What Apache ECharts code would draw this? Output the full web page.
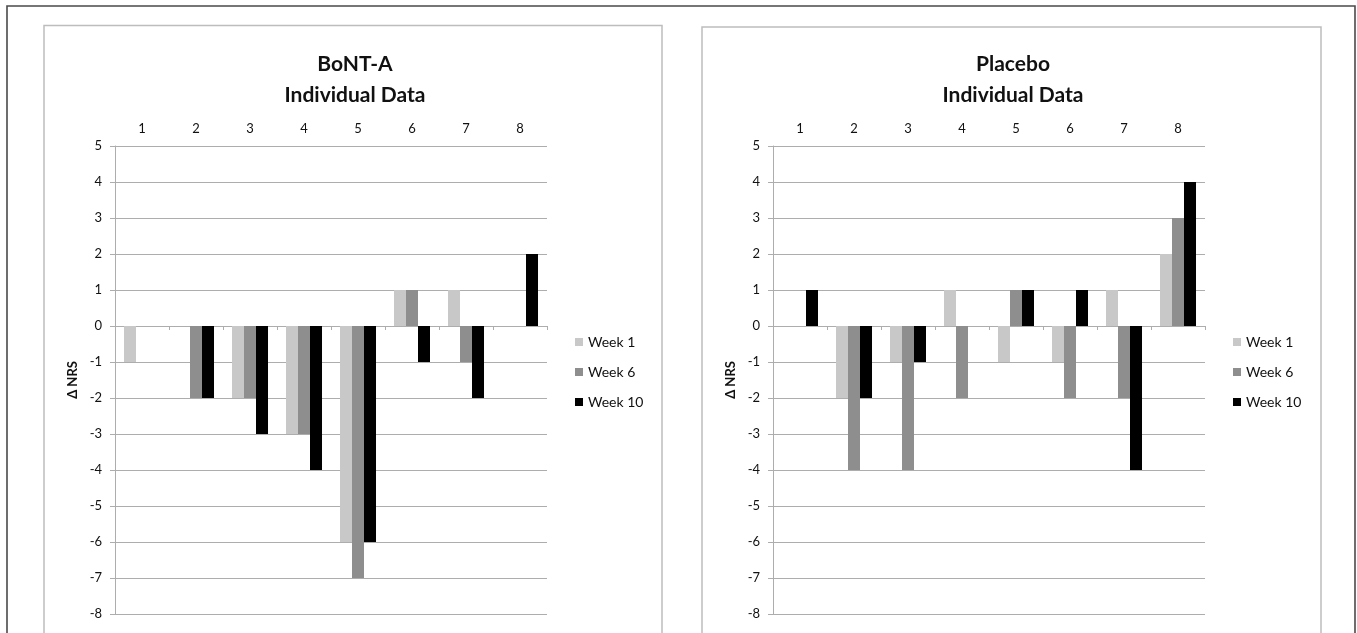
<!DOCTYPE html>
<html>
<head>
<meta charset="utf-8">
<script src="https://cdn.jsdelivr.net/npm/echarts@6/dist/echarts.min.js"></script>
<style>
  html, body { margin: 0; padding: 0; background: #ffffff; }
  #chart { width: 1357px; height: 633px; }
</style>
</head>
<body>
<div id="chart"></div>
<script>
const categories = ['1', '2', '3', '4', '5', '6', '7', '8'];
const seriesNames = ['Week 1', 'Week 6', 'Week 10'];
const bontWeek1  = [-1, 0, -2, -3, -6, 1, 1, 0];
const bontWeek6  = [0, -2, -2, -3, -7, 1, -1, 0];
const bontWeek10 = [0, -2, -3, -4, -6, -1, -2, 2];
const placWeek1  = [0, -2, -1, 1, -1, -1, 1, 2];
const placWeek6  = [0, -4, -4, -2, 1, -2, -2, 3];
const placWeek10 = [1, -2, -1, 0, 1, 1, -4, 4];
const titles = ['BoNT-A\nIndividual Data', 'Placebo\nIndividual Data'];
const yMin = -8, yMax = 5, yStep = 1;
const axisName = 'Δ NRS';

const colors = ['#c8c8c8', '#8e8e8e', '#000000'];
const FONT = 'Lato, "Open Sans", sans-serif';
const gridColor = '#adadad';

const chart = echarts.init(document.getElementById('chart'));

const grids = [
  { left: 115, right: 1357 - 547, top: 146, bottom: 633 - 614 },
  { left: 773, right: 1357 - 1205, top: 146, bottom: 633 - 614 }
];

function xAxes(gi) {
  return [
    {
      type: 'category', gridIndex: gi, data: categories, position: 'top',
      axisLine: { show: false, onZero: false }, axisTick: { show: false },
      axisLabel: { margin: 11, fontSize: 13, color: '#111', fontFamily: FONT },
      splitLine: { show: false }
    },
    {
      type: 'category', gridIndex: gi, data: categories, position: 'bottom',
      axisLine: { show: true, onZero: true, lineStyle: { color: gridColor, width: 1 } },
      axisTick: { show: true, length: 4, lineStyle: { color: gridColor } },
      axisLabel: { show: false },
      splitLine: { show: false }
    }
  ];
}

function yAxis(gi) {
  return {
    type: 'value', gridIndex: gi, min: yMin, max: yMax, interval: yStep,
    name: axisName, nameLocation: 'middle', nameGap: 36,
    nameTextStyle: { fontSize: 13, fontWeight: 'bold', color: '#111', fontFamily: FONT },
    axisLine: { show: true, lineStyle: { color: gridColor, width: 1 } },
    axisTick: { show: true, length: 5, lineStyle: { color: gridColor } },
    axisLabel: { margin: 13, fontSize: 13, color: '#111', fontFamily: FONT },
    splitLine: { show: true, lineStyle: { color: gridColor, width: 1 } }
  };
}

const groups = [
  [bontWeek1, bontWeek6, bontWeek10],
  [placWeek1, placWeek6, placWeek10]
];

const series = [];
groups.forEach((g, gi) => {
  g.forEach((arr, si) => {
    series.push({
      type: 'bar', name: seriesNames[si], data: arr,
      xAxisIndex: gi * 2 + 1, yAxisIndex: gi,
      barGap: '0%', barCategoryGap: '33.3%',
      itemStyle: { color: colors[si] },
      emphasis: { disabled: true },
      animation: false
    });
  });
});

function legend(left) {
  return {
    data: seriesNames, orient: 'vertical', left: left, top: 334, padding: 0,
    icon: 'rect', itemWidth: 8, itemHeight: 8, itemGap: 14,
    textStyle: { fontSize: 14, color: '#111', fontFamily: FONT, lineHeight: 16 },
    selectedMode: false
  };
}

chart.setOption({
  animation: false,
  backgroundColor: '#ffffff',
  title: titles.map((t, i) => ({
    text: t, left: i === 0 ? 350 : 1008, top: 44, textAlign: 'center',
    textStyle: { fontSize: 21, fontWeight: 'bold', color: '#111', fontFamily: FONT, lineHeight: 31 }
  })),
  grid: grids,
  xAxis: xAxes(0).concat(xAxes(1)),
  yAxis: [yAxis(0), yAxis(1)],
  legend: [legend(575), legend(1233)],
  series: series,
  graphic: [
    { type: 'rect', shape: { x: 7, y: 6, width: 1348, height: 660 }, style: { fill: 'none', stroke: '#4a4a4a', lineWidth: 1.6 }, silent: true, z: -1 },
    { type: 'rect', shape: { x: 44, y: 25.5, width: 618, height: 660 }, style: { fill: 'none', stroke: '#bdbdbd', lineWidth: 1.5 }, silent: true, z: -1 },
    { type: 'rect', shape: { x: 702, y: 27, width: 619, height: 660 }, style: { fill: 'none', stroke: '#bdbdbd', lineWidth: 1.5 }, silent: true, z: -1 }
  ]
});
</script>
</body>
</html>
